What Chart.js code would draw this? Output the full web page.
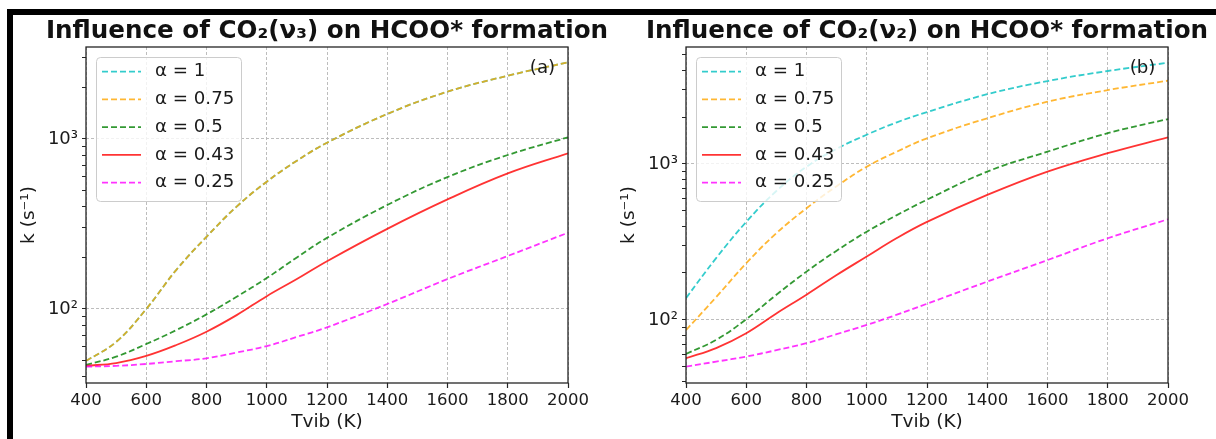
<!DOCTYPE html>
<html>
<head>
<meta charset="utf-8">
<script src="https://cdn.jsdelivr.net/npm/chart.js@4.4.1/dist/chart.umd.min.js"></script>
<style>
  html, body { margin: 0; padding: 0; background: #fff; }
  #page { position: relative; width: 1216px; height: 439px; overflow: hidden; }
  .panel { position: absolute; top: 0; width: 654px; height: 439px; }
  #panelA { left: 0; }
  #panelB { left: 600px; }
  .bar { position: absolute; background: #000; z-index: 5; }
  #barTop { left: 7px; top: 9px; width: 1209px; height: 6px; }
  #barLeft { left: 7px; top: 9px; width: 6px; height: 430px; }
</style>
</head>
<body>
<div id="page">
  <div class="panel" id="panelA"><canvas id="chartA"></canvas></div>
  <div class="panel" id="panelB"><canvas id="chartB"></canvas></div>
  <div class="bar" id="barTop"></div>
  <div class="bar" id="barLeft"></div>
</div>
<script>
// ---- values ----
const tvib = [400, 500, 600, 700, 800, 900, 1000, 1100, 1200, 1400, 1600, 1800, 2000];
const alphaLabels = ['α = 1', 'α = 0.75', 'α = 0.5', 'α = 0.43', 'α = 0.25'];
const alphaColors = ['rgba(0,191,191,0.8)', 'rgba(255,165,0,0.8)', 'rgba(0,128,0,0.8)', 'rgba(255,0,0,0.8)', 'rgba(255,0,255,0.8)'];
const alphaDashed = [true, true, true, false, true];

// panel (a): CO2(v3)  (alpha = 1 sits right under alpha = 0.75)
const kA_a1   = [49.4, 64, 100, 170, 266, 400, 561, 745, 950, 1403, 1897, 2355, 2827];
const kA_a075 = [49.4, 64, 100, 170, 266, 400, 561, 745, 950, 1403, 1897, 2355, 2827];
const kA_a05  = [46.9, 52.4, 62.2, 75.2, 93, 118, 152, 201, 262, 409, 597, 805, 1023];
const kA_a043 = [46.3, 48.1, 53, 61.4, 73.5, 92, 119, 150, 191, 296, 441, 627, 824];
const kA_a025 = [45.8, 46.3, 47.5, 49.3, 51.3, 55.5, 60.5, 68.5, 78, 107, 150, 205, 281];

// panel (b): CO2(v2)
const kB_a1   = [138, 249, 425, 671, 960, 1250, 1540, 1850, 2150, 2800, 3400, 3945, 4455];
const kB_a075 = [86, 140, 231, 360, 520, 720, 960, 1200, 1460, 1964, 2506, 2976, 3419];
const kB_a05  = [60.5, 74.5, 101, 145, 204, 278, 368, 470, 590, 893, 1199, 1575, 1942];
const kB_a043 = [56.8, 66, 82.2, 110, 145, 194, 255, 335, 425, 633, 893, 1172, 1483];
const kB_a025 = [50.2, 54, 58.2, 64, 70.9, 81, 92.9, 108, 127, 176, 242, 334, 442];

// axis ranges and ticks
const xTicksStep = 200;
const yRangeA = [36.7, 3476];
const yRangeB = [39.4, 5623];
const yTicksA = [40, 50, 60, 70, 80, 90, 100, 200, 300, 400, 500, 600, 700, 800, 900, 1000, 2000, 3000];
const yTicksB = [40, 50, 60, 70, 80, 90, 100, 200, 300, 400, 500, 600, 700, 800, 900, 1000, 2000, 3000, 4000, 5000];
const yMajorLabels = { 100: '10²', 1000: '10³' };

const FONT = '"DejaVu Sans", "Liberation Sans", sans-serif';
const GRID = '#b5b5b5';

// title centred over the axes box (wider than the box, like matplotlib)
const axesTitle = {
  id: 'axesTitle',
  afterDraw(chart, args, opts) {
    const { ctx, chartArea: a } = chart;
    ctx.save();
    ctx.font = 'bold 24.6px ' + FONT;
    ctx.fillStyle = '#111';
    ctx.textAlign = 'center';
    ctx.textBaseline = 'alphabetic';
    ctx.fillText(opts.text, (a.left + a.right) / 2, 38);
    ctx.restore();
  }
};

// draws the four spines of the axes box
const axesFrame = {
  id: 'axesFrame',
  afterDatasetsDraw(chart) {
    const { ctx, chartArea: a } = chart;
    ctx.save();
    ctx.strokeStyle = '#262626';
    ctx.lineWidth = 1.3;
    ctx.strokeRect(a.left, a.top, a.right - a.left, a.bottom - a.top);
    ctx.restore();
  }
};

// matplotlib-like legend inside the axes, upper left, plus the panel tag
const insideLegend = {
  id: 'insideLegend',
  afterDatasetsDraw(chart, args, opts) {
    const { ctx, chartArea: a } = chart;
    ctx.save();
    ctx.beginPath();
    ctx.roundRect(a.left + 10.5, a.top + 10.5, 145, 144, 4);
    ctx.fillStyle = 'rgba(255,255,255,0.8)';
    ctx.fill();
    ctx.strokeStyle = '#cccccc';
    ctx.lineWidth = 1;
    ctx.stroke();

    ctx.font = '18.2px ' + FONT;
    ctx.textBaseline = 'middle';
    chart.data.datasets.forEach((ds, i) => {
      const y = a.top + 24.7 + i * 27.75;
      ctx.strokeStyle = ds.borderColor;
      ctx.lineWidth = ds.borderWidth;
      ctx.setLineDash(ds.borderDash || []);
      ctx.beginPath();
      ctx.moveTo(a.left + 16, y);
      ctx.lineTo(a.left + 55, y);
      ctx.stroke();
      ctx.setLineDash([]);
      ctx.fillStyle = '#1a1a1a';
      ctx.fillText(ds.label, a.left + 69, y);
    });

    ctx.textAlign = 'center';
    ctx.fillText(opts.tag, a.right - 25.5, a.top + 21);
    ctx.restore();
  }
};

function makeDatasets(series) {
  return series.map((vals, i) => ({
    label: alphaLabels[i],
    data: tvib.map((t, j) => ({ x: t, y: vals[j] })),
    borderColor: alphaColors[i],
    borderWidth: 1.8,
    borderDash: alphaDashed[i] ? [6, 3] : [],
    pointRadius: 0,
    fill: false,
    tension: 0.4,
    order: series.length - i
  }));
}

function buildPanel(canvasId, title, tag, series, yRange, yTicks) {
  return new Chart(document.getElementById(canvasId), {
    type: 'line',
    data: { datasets: makeDatasets(series) },
    options: {
      responsive: true,
      maintainAspectRatio: false,
      animation: false,
      layout: { padding: { left: 0, right: 86, top: 47, bottom: 0 } },
      plugins: {
        legend: { display: false },
        tooltip: { enabled: false },
        title: { display: false },
        axesTitle: { text: title },
        insideLegend: { tag: tag }
      },
      scales: {
        x: {
          type: 'linear',
          min: 400,
          max: 2000,
          afterFit: (s) => { s.height = 56; },
          border: { display: false, dash: [3, 2] },
          grid: { color: GRID, lineWidth: 0.9, tickColor: '#262626', tickLength: 5, tickWidth: 1.2 },
          ticks: { stepSize: xTicksStep, color: '#1a1a1a', padding: 3, maxRotation: 0,
                   font: { family: FONT, size: 16.5 }, callback: (v) => String(v) },
          title: { display: true, text: 'Tvib (K)', color: '#1a1a1a',
                   font: { family: FONT, size: 18.5 }, padding: { top: 0, bottom: 6 } }
        },
        y: {
          type: 'logarithmic',
          min: yRange[0],
          max: yRange[1],
          bounds: 'data',
          afterFit: (s) => { s.width = 86; },
          afterBuildTicks: (s) => { s.ticks = yTicks.map(v => ({ value: v })); },
          border: { display: false, dash: [3, 2] },
          grid: {
            color: (c) => (c.tick && yMajorLabels[c.tick.value]) ? GRID : 'rgba(0,0,0,0)',
            lineWidth: 0.9,
            tickColor: '#262626',
            tickLength: 4,
            tickWidth: 1
          },
          ticks: {
            autoSkip: false,
            color: '#1a1a1a',
            padding: 4,
            font: { family: FONT, size: 18 },
            callback: (v) => yMajorLabels[v] || ''
          },
          title: { display: true, text: 'k (s⁻¹)', color: '#1a1a1a',
                   font: { family: FONT, size: 18.5 }, padding: { top: 18, bottom: 0 } }
        }
      }
    },
    plugins: [axesFrame, insideLegend, axesTitle]
  });
}

buildPanel('chartA', 'Influence of CO₂(ν₃) on HCOO* formation', '(a)',
  [kA_a1, kA_a075, kA_a05, kA_a043, kA_a025], yRangeA, yTicksA);
buildPanel('chartB', 'Influence of CO₂(ν₂) on HCOO* formation', '(b)',
  [kB_a1, kB_a075, kB_a05, kB_a043, kB_a025], yRangeB, yTicksB);
</script>
</body>
</html>
